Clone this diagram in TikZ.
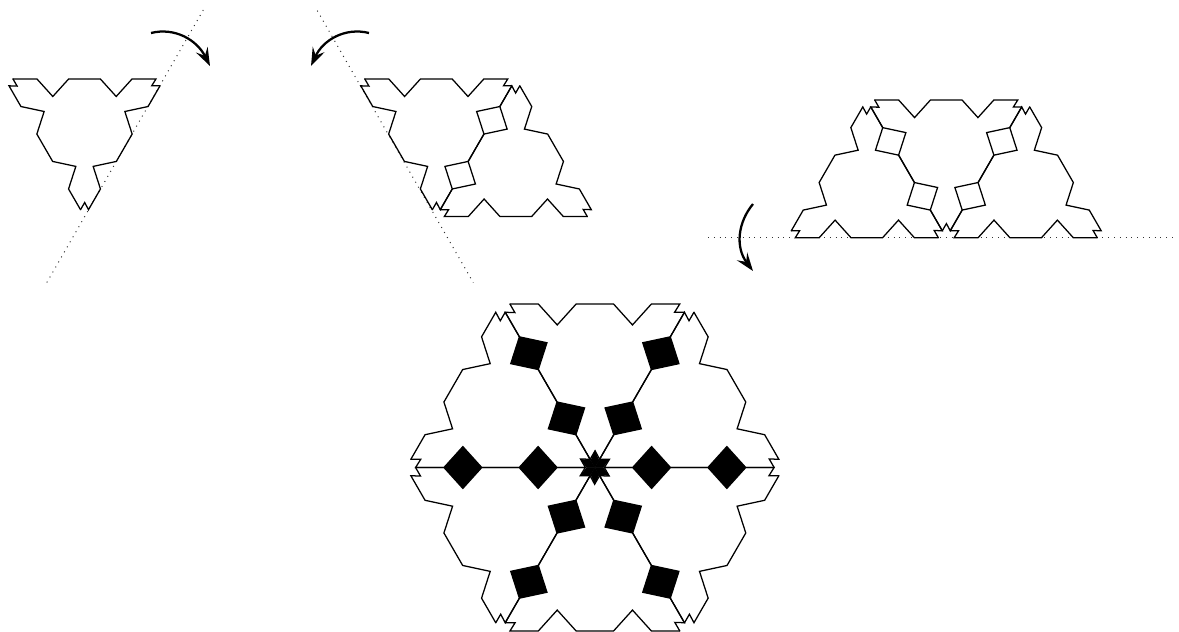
\documentclass[tikz,border=0pt]{standalone}
\usetikzlibrary{arrows.meta}

\begin{document}
\begin{tikzpicture}[
  x=0.75pt, y=-0.75pt,
  outline/.style={line width=0.95pt, line join=miter, line cap=round, draw=black},
  mirror/.style={dash pattern=on 0.75pt off 3.6pt, line width=0.75pt, draw=black!80},
  turn/.style={-{Stealth[length=4.8mm,width=3.4mm,inset=1.8mm]}, line width=1.7pt},
  tile/.pic={
    \foreach \a in {0,-120,-240} {
      \draw[outline, rotate=\a] (-71.5,-45.9) -- (-47.6,-45.9) -- (-31.7,-28.3) -- (-15.8,-45.9)
        -- (15.8,-45.9) -- (31.7,-28.3) -- (47.6,-45.9) -- (71.5,-45.9) -- (67.2,-39) -- (75.5,-39);
    }
  },
  spoke/.pic={
    \fill (31.9,0) -- (47.8,17.6) -- (63.7,0) -- (47.8,-17.6) -- cycle;
    \fill (95.3,0) -- (111.2,17.6) -- (127.1,0) -- (111.2,-17.6) -- cycle;
    \fill (0,0) -- (7,0) -- (12.1,7) -- (3.5,6.06) -- cycle;
    \fill (0,0) -- (7,0) -- (12.1,-7) -- (3.5,-6.06) -- cycle;
  },
]
\useasboundingbox (0,0) rectangle (1179,632);

% first tile
\draw[mirror] (203.3,10) -- (46.7,282.7);
\pic at (84.5,124.8) {tile};
\draw[turn] (151,33) .. controls (175,27) and (197,40) .. (210,66);

% two tiles
\draw[mirror] (317.3,10.7) -- (473.3,282.7);
\pic at (436.3,124.8) {tile};
\pic[rotate=180] at (515.8,170.7) {tile};
\draw[turn] (369,33) .. controls (345,27) and (323,40) .. (311,66);

% three tiles
\draw[mirror] (708,237.7) -- (1176,237.7);
\pic[rotate=180] at (866.8,191.8) {tile};
\pic at (946.25,145.9) {tile};
\pic[rotate=180] at (1025.7,191.8) {tile};
\draw[turn] (753,204) .. controls (738,222) and (735,247) .. (753,271);

% all six
\foreach \a in {0,60,...,300} {
  \pic[rotate=\a, scale=1.187] at (594.85,467.5) {spoke};
  \begin{scope}[shift={(594.85,467.5)}, rotate=\a, scale=1.187]
    \pic[transform shape] at (0,-91.8) {tile};
  \end{scope}
}
\end{tikzpicture}
\end{document}
